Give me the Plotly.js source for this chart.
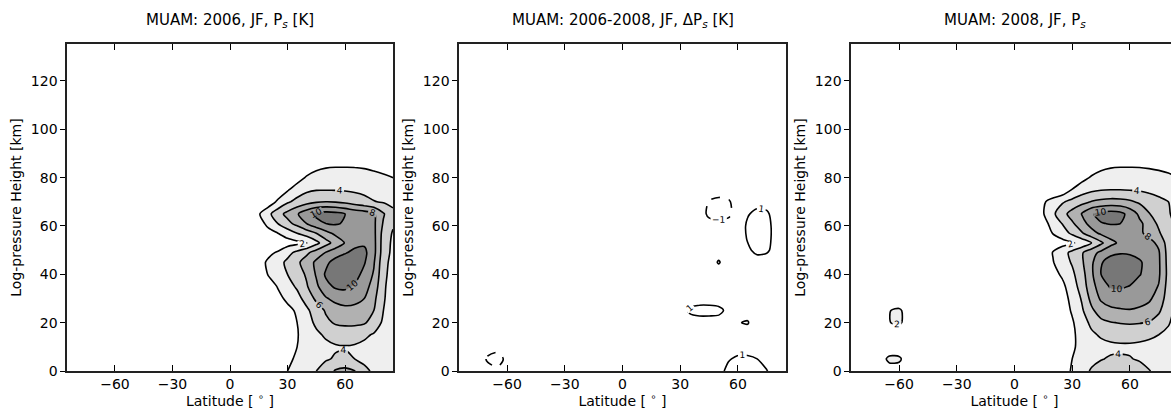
<!DOCTYPE html>
<html><head><meta charset="utf-8">
<script src="https://cdn.plot.ly/plotly-3.0.1.min.js"></script>
<style>html,body{margin:0;padding:0;overflow:hidden;background:#fff}#chart{width:1180px;height:409px}</style>
</head><body><div id="chart"></div>
<script>
// ---------- data ----------
// Panel 1: MUAM 2006 JF, Ps [K]
const lat1 = [10,15,20,25,30,35,40,45,50,55,60,65,70,75,80,85];
const hgt1 = [0,5,10,15,20,25,30,35,40,45,49,53,57,61,65,70,75,80,85,90];
const ps2006 = [
  [0,0,0.2,1.1,2.0,2.6,3.2,4.0,5.0,6.2,6.6,6.1,4.6,3.6,2.6,2.0],
  [0,0,0.1,0.8,1.6,2.3,2.8,3.3,3.8,4.2,4.3,4.0,3.4,3.0,2.6,2.2],
  [0,0,0.1,0.7,1.4,2.0,2.5,3.0,3.5,3.8,3.9,3.8,3.5,3.1,2.7,2.4],
  [0,0,0.2,0.8,1.4,1.9,2.7,3.6,4.3,4.8,4.9,4.8,4.4,3.8,3.0,2.5],
  [0,0,0.3,0.9,1.5,2.0,3.2,4.4,5.6,6.2,6.4,6.4,6.2,5.3,3.6,2.7],
  [0,0.1,0.4,1.0,1.6,2.2,3.6,5.0,6.2,7.0,7.4,7.4,7.0,6.0,4.0,2.9],
  [0,0.2,0.8,1.6,2.3,3.3,4.8,6.4,7.8,8.6,8.9,8.6,8.0,6.5,4.2,3.0],
  [0,0.4,1.3,2.1,3.2,4.3,5.8,7.6,9.4,10.3,10.4,9.8,8.8,7.2,4.3,3.1],
  [0.2,0.9,2.1,3.0,4.0,5.0,6.3,8.2,10.3,11.3,11.6,10.8,9.4,7.8,4.5,3.2],
  [0.3,1.3,2.3,3.3,4.4,5.6,6.9,8.4,9.5,10.8,11.4,11.2,10.2,8.2,4.7,3.3],
  [0.1,0.9,1.6,2.2,3.4,4.5,5.6,6.9,8.1,9.0,9.8,10.5,10.5,8.6,5.0,3.5],
  [0,0.1,0.4,0.8,1.2,1.5,1.9,3.4,5.2,6.8,8.1,9.4,9.7,8.6,5.1,3.6],
  [0,0.5,1.4,2.0,2.9,4.0,5.0,6.0,7.4,8.4,9.0,9.4,9.5,8.5,5.3,3.8],
  [0,1.2,2.5,4.0,5.4,6.6,8.0,9.3,10.0,10.2,9.8,9.3,9.2,8.4,5.8,4.3],
  [0,1.8,3.5,5.2,6.6,7.8,9.3,10.5,10.8,10.6,10.0,9.4,9.0,8.3,6.2,4.4],
  [0,0,0.8,2.4,3.7,4.6,5.3,5.8,6.0,5.9,5.6,5.0,4.6,4.1,3.8,3.6],
  [0,0,0,0.5,1.8,2.9,3.6,3.9,3.9,3.9,3.8,3.7,3.5,3.2,3.0,2.8],
  [0,0,0,0,0.4,1.2,2.2,2.8,3.1,3.2,3.2,3.1,2.9,2.6,2.3,2.0],
  [0,0,0,0,0,0.3,0.9,1.4,1.7,1.8,1.8,1.8,1.7,1.5,1.3,1.0],
  [0,0,0,0,0,0,0.2,0.5,0.8,0.9,0.9,0.9,0.8,0.7,0.5,0.3]
];

// Panel 2: difference 2006-2008, dPs [K]
const lat2 = [-80,-75,-70,-65,-60,-55,-50,25,30,35,40,45,50,55,60,65,70,75,80,85];
const hgt2 = [0,5,10,15,20,25,30,35,40,45,50,55,60,65,70,75,80];
const dps = [
  [0,0,-0.5,-0.7,-0.3,0,0, 0,0,0,0,0,0.6,1.3,1.6,1.6,1.4,1.05,0.5,0.2],
  [0,-0.2,-1.2,-1.6,-0.6,-0.1,0, 0,0,0,0,0,0.4,0.9,1.2,1.2,1.0,0.6,0.3,0.1],
  [0,0,-0.4,-0.5,-0.2,0,0, 0,0,0,0,0,0.2,0.3,0.5,0.5,0.4,0.2,0,0],
  [0,0,0,0,0,0,0, 0,0,0,0,0,0.2,0.3,0.5,0.5,0.3,0,0,0],
  [0,0,0,0,0,0,0, 0,0,0.4,0.5,0.5,0.5,0.5,0.95,1.08,0.4,0,0,0],
  [0,0,0,0,0,0,0, 0,0.2,1.2,1.4,1.4,1.3,0.7,0.6,0.6,0.3,0,0,0],
  [0,0,0,0,0,0,0, 0,0,0.4,0.5,0.5,0.4,0.2,0,0,0,0,0,0],
  [0,0,0,0,0,0,0, 0,0,0,0,0,0,0,0,0,0,0,0,0],
  [0,0,0,0,0,0,0, 0,0,0,0,0,0.3,0,0,0,0.2,0,0,0],
  [0,0,0,0,0,0,0, 0,0,0,0,0.3,1.12,0.3,0,0.2,0.5,0.4,0,0],
  [0,0,0,0,0,0,0, 0,0,0,0,0,0.4,0,0.3,0.8,1.3,1.2,0.5,0],
  [0,0,0,0,0,0,0, 0,0,0,0,0,0,0,0.2,1.1,1.6,1.4,0.5,0],
  [0,0,0,0,0,0,0, 0,0,0,-0.2,-0.4,-0.4,-0.4,0.2,1.2,1.6,1.4,0.5,0],
  [0,0,0,0,0,0,0, 0,0,0,-0.3,-1.3,-1.6,-1.3,-0.4,0.9,1.3,1.2,0.4,0],
  [0,0,0,0,0,0,0, 0,0,0,-0.2,-1.1,-1.4,-1.2,-0.3,0.3,0.6,0.5,0.2,0],
  [0,0,0,0,0,0,0, 0,0,0,0,-0.3,-0.3,-0.3,0,0,0,0,0,0],
  [0,0,0,0,0,0,0, 0,0,0,0,0,0,0,0,0,0,0,0,0]
];

// Panel 3: MUAM 2008 JF, Ps
const lat3 = [-75,-70,-65,-60,-55,-50,10,15,20,25,30,35,40,45,50,55,60,65,70,75,80,85];
const hgt3 = [0,5,10,15,20,25,30,35,40,45,49,53,57,61,65,70,75,80,85,90];
const ps2008 = [
  [0,0.6,1.2,1.2,0.5,0, 0,0,0.2,1.2,2.2,3.3,4.2,4.8,5.2,5.3,5.2,4.8,4.1,3.4,2.6,2.0],
  [0,1.2,2.4,2.3,1.0,0, 0,0,0.1,0.9,2.0,2.9,3.5,3.9,4.2,4.2,4.1,3.8,3.3,2.9,2.5,2.2],
  [0,0.4,0.8,0.8,0.4,0, 0,0,0.1,0.8,1.8,2.4,2.9,3.3,3.6,3.7,3.7,3.6,3.4,3.1,2.9,2.6],
  [0,0,0.5,0.2,0.2,0, 0,0,0.2,0.8,1.7,2.6,3.6,4.3,4.6,4.7,4.7,4.6,4.4,4.0,3.5,2.8],
  [0,0.5,1.95,2.3,1.2,0, 0,0,0.3,0.9,1.8,3.0,4.5,5.5,5.9,6.1,6.2,6.1,5.9,5.2,4.2,3.0],
  [0,0.5,1.95,2.3,1.2,0, 0,0.1,0.5,1.1,2.2,3.7,5.6,7.0,7.6,7.8,7.9,7.7,7.3,6.3,4.7,3.2],
  [0,0,0.8,0.6,0.5,0, 0,0.2,0.7,1.3,2.5,4.2,6.6,8.3,8.9,9.0,8.9,8.7,8.3,7.2,5.0,3.3],
  [0,0,0,0,0,0, 0,0.3,0.9,1.6,3.0,4.9,7.2,9.1,10.2,10.3,9.9,9.3,8.8,7.9,5.2,3.4],
  [0,0,0,0,0,0, 0,0.6,1.4,2.3,3.6,5.2,7.6,10.0,11.4,11.7,11.2,10.1,9.3,8.3,5.4,3.5],
  [0,0,0,0,0,0, 0.2,1.2,1.9,3.1,4.2,5.7,7.6,9.8,10.9,11.3,11.0,10.2,9.4,8.3,5.3,3.5],
  [0,0,0,0,0,0, 0.1,1.0,2.1,3.3,4.5,5.8,7.2,8.5,9.5,9.8,9.7,9.5,9.0,8.2,5.2,3.5],
  [0,0,0,0,0,0, 0,0.2,0.8,1.3,1.8,2.6,4.0,5.6,7.4,8.4,8.8,8.9,8.6,7.6,5.0,3.6],
  [0,0,0,0,0,0, 0,0.7,2.1,3.1,4.4,5.8,7.2,8.4,9.0,9.1,8.9,8.3,7.5,6.3,4.5,3.6],
  [0,0,0,0,0,0, 0.1,1.2,2.8,4.1,5.7,7.2,8.8,9.9,10.1,10.0,9.4,8.4,7.2,5.6,4.3,3.7],
  [0,0,0,0,0,0, 0.3,1.9,3.6,5.3,6.8,8.1,9.8,10.6,10.9,10.6,9.3,7.6,6.1,4.9,4.1,3.6],
  [0,0,0,0,0,0, 0.2,1.7,2.9,3.8,4.6,5.4,6.1,6.5,6.7,6.6,6.3,5.7,5.0,4.5,4.0,3.6],
  [0,0,0,0,0,0, 0,0,0,0.6,2.1,3.0,3.6,3.9,4.0,4.0,3.9,3.8,3.6,3.3,3.0,2.8],
  [0,0,0,0,0,0, 0,0,0,0,0.5,1.4,2.2,2.8,3.1,3.2,3.2,3.1,2.9,2.6,2.3,2.0],
  [0,0,0,0,0,0, 0,0,0,0,0,0.3,0.9,1.4,1.7,1.8,1.8,1.8,1.7,1.6,1.5,1.3],
  [0,0,0,0,0,0, 0,0,0,0,0,0,0.2,0.5,0.8,0.9,0.9,0.9,0.8,0.7,0.5,0.3]
];

const xTicks = [-60,-30,0,30,60];
const yTicks = [0,20,40,60,80,100,120];
const panelTitles = [
  'MUAM: 2006, JF, P<sub><i>s</i></sub> [K]',
  'MUAM: 2006-2008, JF, ΔP<sub><i>s</i></sub> [K]',
  'MUAM: 2008, JF, P<sub><i>s</i></sub>'
];
const xTitle = 'Latitude [ <sup>∘</sup> ]';
const yTitle = 'Log-pressure Height [km]';

// ---------- layout ----------
const W = 1180, H = 409;
const FONT = 'DejaVu Sans, sans-serif';
const pxX = [[67,393],[459,786],[851,1178]];
const pyTop = 44, pyBot = 371;
const yDom = [(H - pyBot) / H, (H - pyTop) / H];

const grey = [[0,'#ffffff'],[0.2,'#efefef'],[0.4,'#d0d0d0'],[0.6,'#b1b1b1'],[0.8,'#999999'],[1,'#777777']];
const lblFont = {family: FONT, size: 9, color: '#000000'};

function filled(x, y, z, xa, ya) {
  return {type:'contour', x:x, y:y, z:z, xaxis:xa, yaxis:ya,
    autocontour:false, contours:{start:2, end:10, size:2, coloring:'fill', showlabels:true, labelfont:lblFont},
    colorscale:grey, showscale:false, line:{color:'#000', width:1.6, smoothing:0.8}, hoverinfo:'skip'};
}
function lines(x, y, z, xa, ya, lev, dash) {
  return {type:'contour', x:x, y:y, z:z, xaxis:xa, yaxis:ya,
    autocontour:false, contours:{start:lev, end:lev, size:1, coloring:'none', showlabels:true, labelfont:lblFont},
    showscale:false, line:{color:'#000', width:1.6, smoothing:0.8, dash:dash}, hoverinfo:'skip'};
}

const data = [
  filled(lat1, hgt1, ps2006, 'x', 'y'),
  lines(lat2, hgt2, dps, 'x2', 'y2', 1, 'solid'),
  lines(lat2, hgt2, dps, 'x2', 'y2', -1, 'dash'),
  filled(lat3, hgt3, ps2008, 'x3', 'y3')
];

const layout = {
  width: W, height: H, margin:{l:0, r:0, t:0, b:0},
  paper_bgcolor:'#fff', plot_bgcolor:'#fff',
  font:{family: FONT, size: 14, color:'#000'},
  showlegend:false, annotations:[]
};
for (let i = 0; i < 3; i++) {
  const s = i === 0 ? '' : String(i + 1);
  const xa = 'x' + s, ya = 'y' + s;
  layout['xaxis' + s] = {
    domain:[pxX[i][0] / W, pxX[i][1] / W], anchor: ya, range:[-85, 85],
    tickvals: xTicks, ticks:'inside', ticklen:6, tickwidth:1, tickcolor:'#000',
    showline:true, mirror:'ticks', linecolor:'#222', linewidth:1.6,
    showgrid:false, zeroline:false, tickfont:{size:14},
    title:{text: xTitle, font:{size:14}, standoff:2}
  };
  layout['yaxis' + s] = {
    domain: yDom, anchor: xa, range:[0, 135.3],
    tickvals: yTicks, ticks:'outside', ticklen:5, tickwidth:1, tickcolor:'#000',
    showline:true, mirror:true, linecolor:'#222', linewidth:1.6,
    showgrid:false, zeroline:false, tickfont:{size:14},
    title:{text: yTitle, font:{size:14}, standoff:6}
  };
  // inner ticks on the right-hand frame
  layout['yaxis' + (i + 4)] = {
    overlaying: ya, anchor: xa, side:'right', range:[0, 135.3],
    tickvals: yTicks, ticks:'inside', ticklen:6, tickwidth:1, tickcolor:'#000',
    showticklabels:false, showline:false, showgrid:false, zeroline:false
  };
  layout.annotations.push({
    xref:'paper', yref:'paper', x:(pxX[i][0] + pxX[i][1]) / 2 / W, y: 1 - 21 / H,
    xanchor:'center', yanchor:'middle', showarrow:false,
    text: panelTitles[i], font:{size:15}
  });
}

Plotly.newPlot('chart', data, layout, {displayModeBar:false, staticPlot:true});
</script>
</body></html>
